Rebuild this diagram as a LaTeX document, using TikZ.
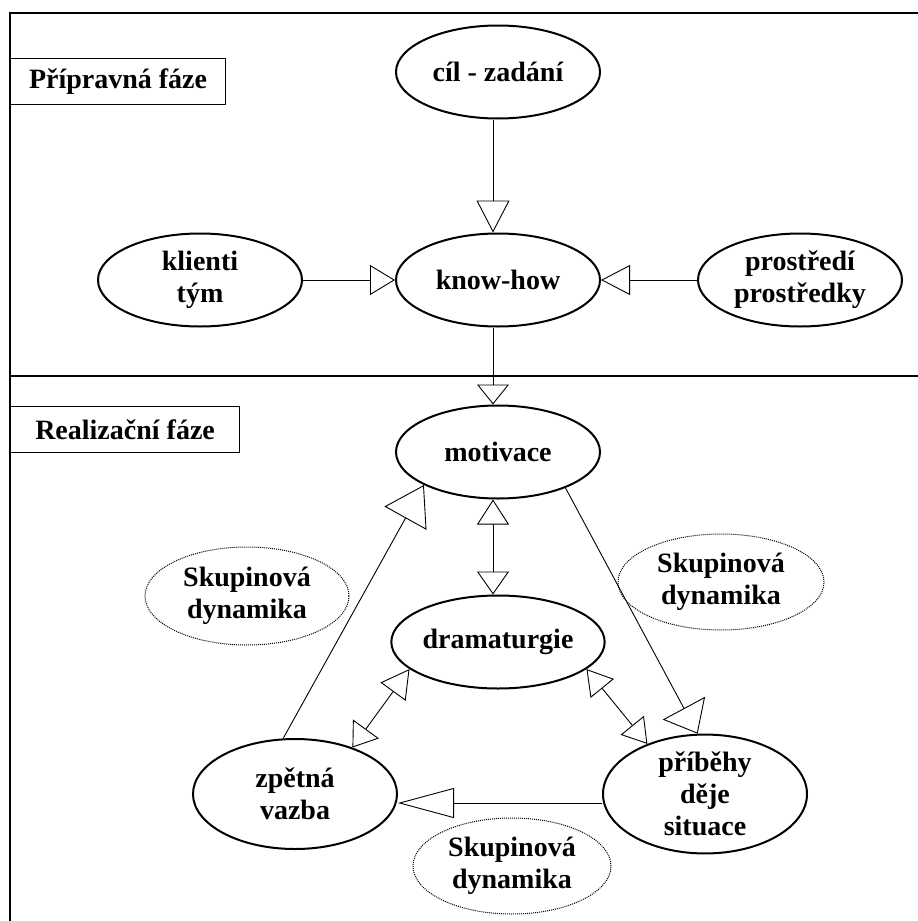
\documentclass[tikz,border=0pt]{standalone}
\usepackage{fontspec}
\setmainfont{Liberation Serif}
\usetikzlibrary{shapes.geometric,arrows.meta}
\begin{document}
\begin{tikzpicture}[x=1pt,y=-1pt,
  txt/.style={font=\fontsize{28}{32}\selectfont\bfseries},
  el/.style={ellipse,draw,line width=2pt,minimum width=204pt,minimum height=93pt,inner sep=0pt,align=center,txt},
  elbig/.style={el,minimum height=110pt},
  del/.style={ellipse,draw,densely dotted,line width=1pt,minimum width=204pt,minimum height=96pt,inner sep=0pt,align=center,txt},
  lbl/.style={draw,line width=1.1pt,minimum height=46pt,inner sep=0pt,anchor=north west,txt},
  con/.style={line width=0.9pt},
  frame/.style={line width=1.5pt},
  ]
\useasboundingbox (0,0) rectangle (918,921);
% frame
\coordinate (fbl) at (10,921);
\coordinate (ftl) at (10,13);
\coordinate (ftr) at (918,13);
\coordinate (dl) at (10,376);
\coordinate (dr) at (918,376);
\draw[frame] (fbl) -- (ftl) -- (ftr);
\draw[line width=1.2pt] (dl) -- (dr);
% phase labels
\node[lbl,minimum width=215pt] (prip) at (10,58) {Přípravná fáze};
\node[lbl,minimum width=229pt] (real) at (10,406) {Realizační fáze};
% nodes
\node[el] (cil) at (498,72) {cíl - zadání};
\node[el] (kh) at (498,280) {know-how};
\node[el] (kl) at (200,280) {klienti\\tým};
\node[el] (pr) at (800,280) {prostředí\\prostředky};
\node[el] (mot) at (498,452) {motivace};
\node[el] (dram) at (498,642) {dramaturgie};
\node[elbig] (zv) at (295,794) {zpětná\\vazba};
\node[elbig] (pb) at (705,794) {příběhy\\děje\\situace};
\node[del,minimum height=98pt] (dynL) at (247,596) {Skupinová\\dynamika};
\node[del,minimum width=206pt] (dynR) at (721,582) {Skupinová\\dynamika};
\node[del,minimum width=198pt] (dynB) at (512,866) {Skupinová\\dynamika};
% connectors
\draw[con,-{Triangle[open,length=32pt,width=33pt]}] ([xshift=-5pt]cil.south) -- ([xshift=-5pt]kh.north);
\draw[con,-{Triangle[open,length=25pt,width=30pt]}] (kl.east) -- (kh.west);
\draw[con,-{Triangle[open,length=29pt,width=30pt]}] (pr.west) -- (kh.east);
\draw[con,-{Triangle[open,length=20pt,width=32pt]}] ([xshift=-5pt]kh.south) -- ([xshift=-5pt]mot.north);
\draw[con,{Triangle[open,length=25pt,width=32pt]}-{Triangle[open,length=23pt,width=32pt]}] ([xshift=-5pt]mot.south) -- ([xshift=-5pt]dram.north);
\draw[con,-{Triangle[open,length=29pt,width=48pt]}] (mot.-28) -- (pb.97);
\draw[con,{Triangle[open,length=25pt,width=30pt]}-{Triangle[open,length=24pt,width=30pt]}] (dram.-17) -- (pb.139);
\draw[con,{Triangle[open,length=28pt,width=31pt]}-{Triangle[open,length=23pt,width=32pt]}] (dram.197) -- (zv.39);
\draw[con,-{Triangle[open,length=38pt,width=48pt]}] (zv.102) -- (mot.204);
\draw[con,-{Triangle[open,length=56pt,width=30pt]}] ([yshift=-9pt]pb.west) -- ([yshift=-9pt]zv.east);
\end{tikzpicture}
\end{document}
